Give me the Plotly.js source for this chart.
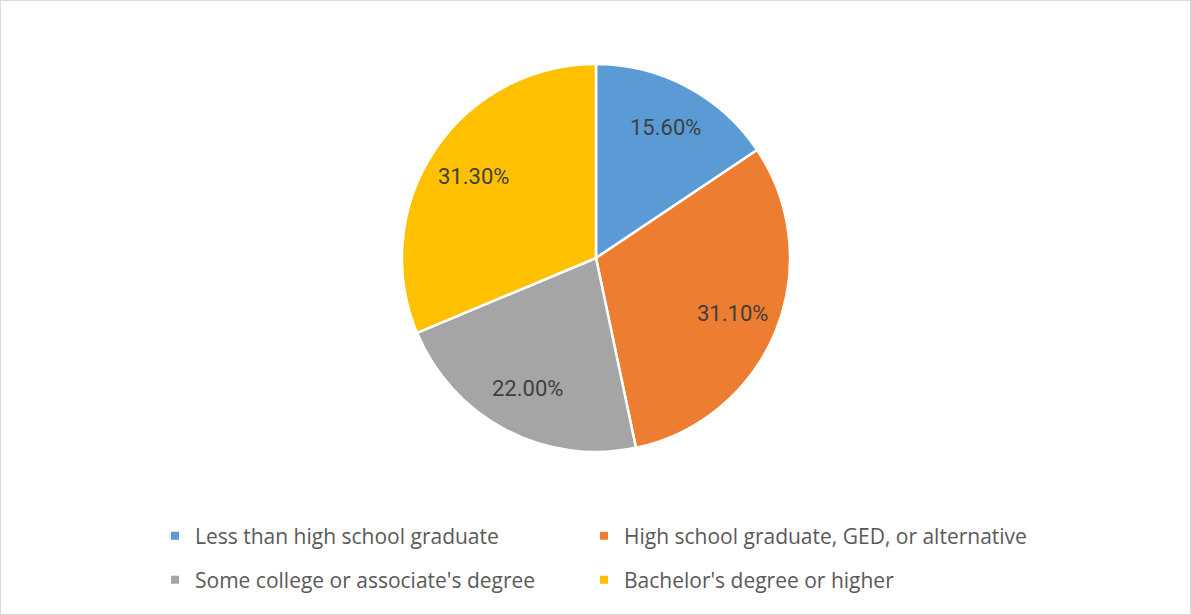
<!DOCTYPE html>
<html>
<head>
<meta charset="utf-8">
<script src="https://cdn.plot.ly/plotly-3.0.1.min.js"></script>
<style>html,body{margin:0;padding:0;background:#fff;}#chart{width:1191px;height:615px;}</style>
</head>
<body>
<div id="chart"></div>
<script>
const categories = [
  "Less than high school graduate",
  "High school graduate, GED, or alternative",
  "Some college or associate's degree",
  "Bachelor's degree or higher"
];
const shares = [15.6, 31.1, 22.0, 31.3];
const colors = ["#5B9BD5", "#ED7D31", "#A5A5A5", "#FFC000"];
const legendIds = ["legend", "legend2", "legend3", "legend4"];

const W = 1191, H = 615;
const cx = 596, cy = 258, R = 194;
const labelRadius = 0.76;
const legendCols = [155, 584];   // px, left edge of legend item
const legendRows = [536, 580];   // px, vertical centre of row

const traces = [{
  type: "pie",
  labels: categories,
  values: shares,
  sort: false,
  direction: "clockwise",
  rotation: 0,
  marker: {colors: colors, line: {color: "#ffffff", width: 2.5}},
  textinfo: "none",
  hoverinfo: "label+value",
  showlegend: false,
  domain: {x: [(cx - R) / W, (cx + R) / W], y: [(H - cy - R) / H, (H - cy + R) / H]}
}];

categories.forEach((c, i) => {
  traces.push({
    type: "scatter",
    x: [null], y: [null],
    mode: "markers",
    name: c,
    marker: {symbol: "square", size: 8, color: colors[i]},
    legend: legendIds[i],
    hoverinfo: "skip"
  });
});

// slice labels placed at the mid-angle of each slice (derived from the data)
const total = shares.reduce((a, b) => a + b, 0);
let cum = 0;
const annotations = shares.map(v => {
  const mid = (cum + v / 2) / total * 2 * Math.PI;
  cum += v;
  const px = cx + labelRadius * R * Math.sin(mid);
  const py = cy - labelRadius * R * Math.cos(mid);
  return {
    xref: "paper", yref: "paper",
    x: px / W, y: (H - py) / H,
    xanchor: "center", yanchor: "middle",
    showarrow: false,
    text: v.toFixed(2) + "%",
    font: {family: "Roboto, sans-serif", size: 22, color: "#404040"}
  };
});

const layout = {
  width: W, height: H,
  margin: {l: 0, r: 0, t: 0, b: 0},
  paper_bgcolor: "#ffffff",
  plot_bgcolor: "#ffffff",
  xaxis: {visible: false},
  yaxis: {visible: false},
  annotations: annotations,
  shapes: [{
    type: "rect", xref: "paper", yref: "paper",
    x0: 0, x1: 1, y0: 0, y1: 1,
    line: {color: "#d9d9d9", width: 2}
  }]
};

legendIds.forEach((id, i) => {
  layout[id] = {
    orientation: "h",
    xanchor: "left",
    yanchor: "middle",
    x: legendCols[i % 2] / W,
    y: (H - legendRows[Math.floor(i / 2)]) / H,
    font: {family: "Open Sans, sans-serif", size: 21, color: "#595959"},
    bgcolor: "rgba(0,0,0,0)",
    itemclick: false,
    itemdoubleclick: false
  };
});

Plotly.newPlot("chart", traces, layout, {displayModeBar: false});
</script>
</body>
</html>
